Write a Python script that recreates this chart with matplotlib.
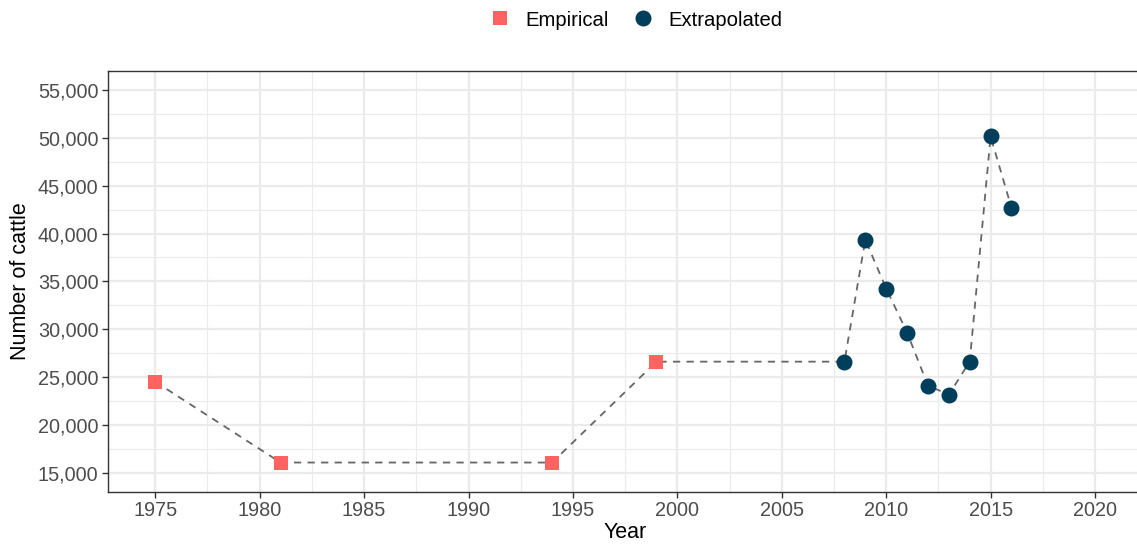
import matplotlib
matplotlib.use("Agg")
import matplotlib.pyplot as plt
from matplotlib.ticker import FuncFormatter, MultipleLocator
from matplotlib.lines import Line2D

plt.rcParams['font.family'] = ['Liberation Sans', 'DejaVu Sans']

emp_years = [1975, 1981, 1994, 1999]
emp_values = [24500, 16050, 16050, 26600]
ext_years = [2008, 2009, 2010, 2011, 2012, 2013, 2014, 2015, 2016]
ext_values = [26600, 39350, 34250, 29650, 24100, 23150, 26600, 50150, 42700]

emp_color = '#ff6361'
ext_color = '#003f5c'

fig = plt.figure(figsize=(11.37, 5.44), dpi=100)
ax = fig.add_axes([108.3/1137, 1 - 491.7/544, (1142 - 108.3)/1137, (491.7 - 71)/544])

all_years = emp_years + ext_years
all_values = emp_values + ext_values
ax.plot(all_years, all_values, color='#666666', linewidth=1.3, linestyle=(0, (4, 3.5)), zorder=2)
ax.plot(emp_years, emp_values, linestyle='none', marker='s', markersize=10.5,
        color=emp_color, markeredgewidth=0, zorder=3)
ax.plot(ext_years, ext_values, linestyle='none', marker='o', markersize=11.5,
        color=ext_color, markeredgewidth=0, zorder=3)

ax.set_xlim(1972.75, 2022.25)
ax.set_ylim(13000, 57000)
ax.xaxis.set_major_locator(MultipleLocator(5))
ax.xaxis.set_minor_locator(MultipleLocator(2.5))
ax.yaxis.set_major_locator(MultipleLocator(5000))
ax.yaxis.set_minor_locator(MultipleLocator(2500))
ax.yaxis.set_major_formatter(FuncFormatter(lambda v, p: f"{int(v):,}"))

ax.grid(which='major', color='#EBEBEB', linewidth=1.6, zorder=0)
ax.grid(which='minor', color='#EBEBEB', linewidth=0.8, zorder=0)
ax.set_axisbelow(True)
for s in ax.spines.values():
    s.set_color('#333333')
    s.set_linewidth(1.0)
ax.tick_params(which='major', length=4, width=1.0, color='#333333',
               labelsize=14.3, labelcolor='#4D4D4D', pad=3)
ax.tick_params(which='minor', length=0)

ax.set_xlabel('Year', fontsize=15.5, color='black', labelpad=1)
ax.set_ylabel('Number of cattle', fontsize=15.5, color='black', labelpad=5)

handles = [
    Line2D([], [], linestyle='none', marker='s', markersize=10.5, color=emp_color,
           markeredgewidth=0, label='Empirical'),
    Line2D([], [], linestyle='none', marker='o', markersize=11.5, color=ext_color,
           markeredgewidth=0, label='Extrapolated'),
]
fig.legend(handles=handles, loc='center', bbox_to_anchor=(0.5595, 1 - 20/544), ncol=2,
           frameon=False, fontsize=14.6, handletextpad=0.75, columnspacing=1.15,
           handlelength=1.0)

fig.savefig('out.png', dpi=100)
